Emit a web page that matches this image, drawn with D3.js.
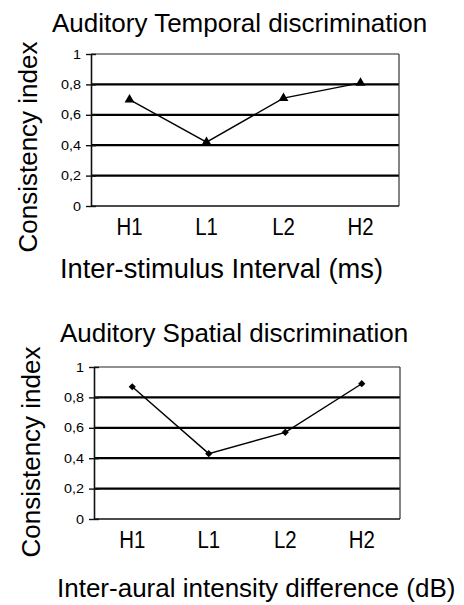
<!DOCTYPE html>
<html>
<head>
<meta charset="utf-8">
<script src="https://cdn.jsdelivr.net/npm/d3@7/dist/d3.min.js"></script>
<style>
  html, body { margin: 0; padding: 0; background: #fff; }
  svg { display: block; }
  text { font-family: "Liberation Sans", Arial, sans-serif; fill: #000; }
</style>
</head>
<body>
<svg id="chart" width="464" height="605"></svg>
<script>
// ---- Data ----
const categories = ["H1", "L1", "L2", "H2"];
const temporalValues = [0.70, 0.42, 0.71, 0.81];
const spatialValues = [0.87, 0.43, 0.57, 0.89];
const yTicks = [0, 0.2, 0.4, 0.6, 0.8, 1];
const yTickLabels = ["0", "0,2", "0,4", "0,6", "0,8", "1"];
const titles = ["Auditory Temporal discrimination", "Auditory Spatial discrimination"];
const xTitles = ["Inter-stimulus Interval (ms)", "Inter-aural intensity difference (dB)"];
const yTitle = "Consistency index";

// ---- Layout ----
const panels = [
  { values: temporalValues, title: titles[0], xTitle: xTitles[0], marker: "triangle",
    left: 91, right: 399, top: 54, bottom: 206,
    titleX: 52, titleY: 32, yTitleX: 37, yTitleY: 147, catY: 235,
    xTitleX: 60, xTitleY: 278, xTitleSize: 27.3 },
  { values: spatialValues, title: titles[1], xTitle: xTitles[1], marker: "diamond",
    left: 94, right: 400, top: 367, bottom: 519,
    titleX: 60, titleY: 342, yTitleX: 40, yTitleY: 452, catY: 548,
    xTitleX: 57, xTitleY: 597, xTitleSize: 26 }
];

const svg = d3.select("#chart");

panels.forEach(p => {
  const g = svg.append("g");
  const x = d3.scaleBand().domain(categories).range([p.left, p.right]).padding(0);
  const y = d3.scaleLinear().domain([0, 1]).range([p.bottom, p.top]);

  // gridlines
  g.append("g").selectAll("line")
    .data(yTicks.filter(t => t > 0 && t < 1))
    .join("line")
    .attr("x1", p.left).attr("x2", p.right)
    .attr("y1", d => y(d)).attr("y2", d => y(d))
    .attr("stroke", "#000").attr("stroke-width", 2.2);

  // top and right border (thin)
  g.append("line").attr("x1", p.left).attr("x2", p.right)
    .attr("y1", y(1)).attr("y2", y(1)).attr("stroke", "#222").attr("stroke-width", 1.2);
  g.append("line").attr("x1", p.right).attr("x2", p.right)
    .attr("y1", y(1)).attr("y2", y(0)).attr("stroke", "#333").attr("stroke-width", 1.2);
  // bottom axis line
  g.append("line").attr("x1", p.left).attr("x2", p.right)
    .attr("y1", y(0)).attr("y2", y(0)).attr("stroke", "#111").attr("stroke-width", 1.6);

  // y axis
  const yAxis = d3.axisLeft(y).tickValues(yTicks)
    .tickFormat((d, i) => yTickLabels[i]).tickSizeInner(5).tickSizeOuter(0).tickPadding(6);
  const ya = g.append("g").attr("transform", `translate(${p.left},0)`).call(yAxis);
  ya.select(".domain").attr("stroke", "#111").attr("stroke-width", 1.6);
  ya.selectAll(".tick line").attr("stroke", "#111").attr("stroke-width", 1.4)
    .attr("x1", 5);
  ya.selectAll(".tick text")
    .attr("font-size", 12)
    .attr("font-family", "'Liberation Sans', Arial, sans-serif")
    .attr("x", 0).attr("dy", null)
    .attr("dominant-baseline", "central")
    .attr("transform", "translate(-10,0) scale(1.2,1)");

  // x axis (labels only)
  const xAxis = d3.axisBottom(x).tickSize(0).tickPadding(0);
  const xa = g.append("g").attr("transform", `translate(0,${p.catY})`).call(xAxis);
  xa.select(".domain").remove();
  xa.selectAll(".tick text")
    .attr("font-size", 24)
    .attr("font-family", "'Liberation Sans', Arial, sans-serif")
    .attr("y", 0).attr("dy", null)
    .attr("transform", "scale(0.85,1)");

  // line
  const line = d3.line()
    .x((d, i) => x(categories[i]) + x.bandwidth() / 2)
    .y(d => y(d));
  g.append("path").datum(p.values)
    .attr("d", line).attr("fill", "none")
    .attr("stroke", "#000").attr("stroke-width", 1.4);

  // markers
  const sym = p.marker === "triangle"
    ? d3.symbol(d3.symbolTriangle, 42)
    : d3.symbol(d3.symbolSquare, 26);
  g.append("g").selectAll("path")
    .data(p.values)
    .join("path")
    .attr("d", sym)
    .attr("fill", "#000")
    .attr("transform", (d, i) => {
      const cx = x(categories[i]) + x.bandwidth() / 2;
      return `translate(${cx},${y(d)})` + (p.marker === "diamond" ? " rotate(45)" : "");
    });

  // titles
  g.append("text").attr("x", p.titleX).attr("y", p.titleY)
    .attr("font-size", 26).text(p.title);
  g.append("text").attr("x", p.xTitleX).attr("y", p.xTitleY)
    .attr("font-size", p.xTitleSize).text(p.xTitle);
  g.append("text")
    .attr("transform", `translate(${p.yTitleX},${p.yTitleY}) rotate(-90)`)
    .attr("text-anchor", "middle")
    .attr("font-size", 26).text(yTitle);
});
</script>
</body>
</html>
